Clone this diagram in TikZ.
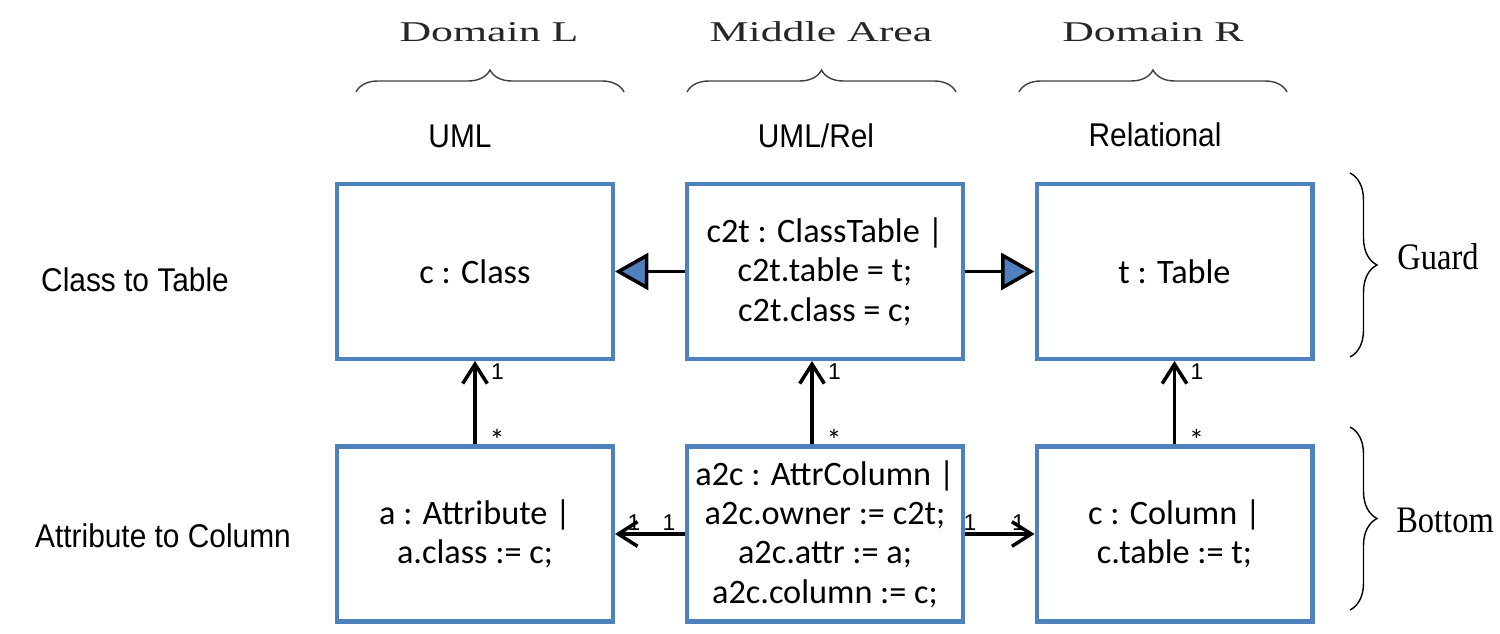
\documentclass[tikz,border=0pt]{standalone}
\usepackage{fontspec}
\setmainfont{Liberation Serif}
\newfontfamily\calfont{Carlito}
\newfontfamily\arialfont{Liberation Sans}
\usepackage{xcolor}
\usepackage{tikz}
\usetikzlibrary{arrows.meta, calc, positioning, decorations.pathreplacing}
\definecolor{boxblue}{HTML}{4F81BD}
\definecolor{bracegray}{HTML}{404040}

\tikzset{
  umlbox/.style={draw=boxblue, line width=2.3pt, minimum width=5.52cm, minimum height=3.5cm,
    align=center, inner sep=0pt, font=\calfont\fontsize{19.5}{22.4}\selectfont},
  guardarrow/.style={line width=2pt, -{Triangle[length=19pt, width=21pt, fill=boxblue]}},
  assoc/.style={line width=2pt, -{Straight Barb[length=11pt, width=14pt]}},
  mult/.style={font=\arialfont\fontsize{13}{15}\selectfont, inner sep=1pt},
  many/.style={font=\calfont\fontsize{17}{19}\selectfont, inner sep=1pt},
  sidelabel/.style={font=\arialfont\fontsize{17}{20}\selectfont, yscale=1.1, anchor=base},
  domlabel/.style={font=\fontsize{16.3}{19}\selectfont, xscale=1.53, anchor=base, text=black!85},
  partlabel/.style={font=\fontsize{18.5}{22}\selectfont, yscale=1.15, anchor=base},
  bracedeco/.style={decorate, decoration={brace, amplitude=#1}, line width=0.8pt}
}

\begin{document}
\begin{tikzpicture}[x=0.02cm, y=-0.02cm]
\useasboundingbox (0,0) rectangle (1500,634);

% Domain headers
\draw[bracedeco=0.44cm, bracegray] (356,92) -- (624,92);
\draw[bracedeco=0.44cm, bracegray] (687,92) -- (956,92);
\draw[bracedeco=0.44cm, bracegray] (1019,92) -- (1287,92);
\node[domlabel] (domL) at (489,42) {Domain L};
\node[domlabel] (domM) at (821,42) {Middle Area};
\node[domlabel] (domR) at (1153,42) {Domain R};

% Metamodel names
\node[sidelabel] (mmL) at (460,148) {UML};
\node[sidelabel] (mmM) at (816,148) {UML/Rel};
\node[sidelabel] (mmR) at (1155,147) {Relational};

% Rule names
\node[sidelabel] (ruleC) at (135,292) {Class to Table};
\node[sidelabel] (ruleA) at (163,547) {Attribute to Column};

% Guard row
\node[umlbox] (cls) at (475,271.5) {c : Class};
\node[umlbox] (c2t) at (825,271.5) {c2t : ClassTable |\\ c2t.table = t;\\ c2t.class = c;};
\node[umlbox] (tbl) at (1174.5,271.5) {t : Table};

% Bottom row
\node[umlbox] (attr) at (475,534) {a : Attribute |\\ a.class := c;};
\node[umlbox] (a2c) at (825,534) {a2c : AttrColumn |\\ a2c.owner := c2t;\\ a2c.attr := a;\\ a2c.column := c;};
\node[umlbox] (col) at (1174.5,534) {c : Column |\\ c.table := t;};

% Guard links
\draw[guardarrow] (c2t.west) -- (cls.east);
\draw[guardarrow] (c2t.east) -- (tbl.west);

% Bottom links
\draw[assoc] (a2c.west) -- node[mult, pos=0.23, above] {1} node[mult, pos=0.73, above] {1} (attr.east);
\draw[assoc] (a2c.east) -- node[mult, pos=0.07, above] {1} node[mult, pos=0.77, above] {1} (col.west);

% Up links
\draw[assoc] (attr.north) -- node[many, pos=0.06, right=0.22cm] {*} node[mult, pos=0.87, right=0.25cm] {1} (cls.south);
\draw[assoc] ([xshift=-0.26cm]a2c.north) -- node[many, pos=0.06, right=0.22cm] {*} node[mult, pos=0.87, right=0.25cm] {1} ([xshift=-0.26cm]c2t.south);
\draw[assoc] (col.north) -- node[many, pos=0.06, right=0.22cm] {*} node[mult, pos=0.87, right=0.25cm] {1} (tbl.south);

% Parts
\draw[bracedeco=0.54cm] (1350,173) -- (1350,357);
\draw[bracedeco=0.54cm] (1350,427) -- (1350,610);
\node[partlabel] (guard) at (1438,270) {Guard};
\node[partlabel] (bottom) at (1445,532) {Bottom};

\end{tikzpicture}
\end{document}
